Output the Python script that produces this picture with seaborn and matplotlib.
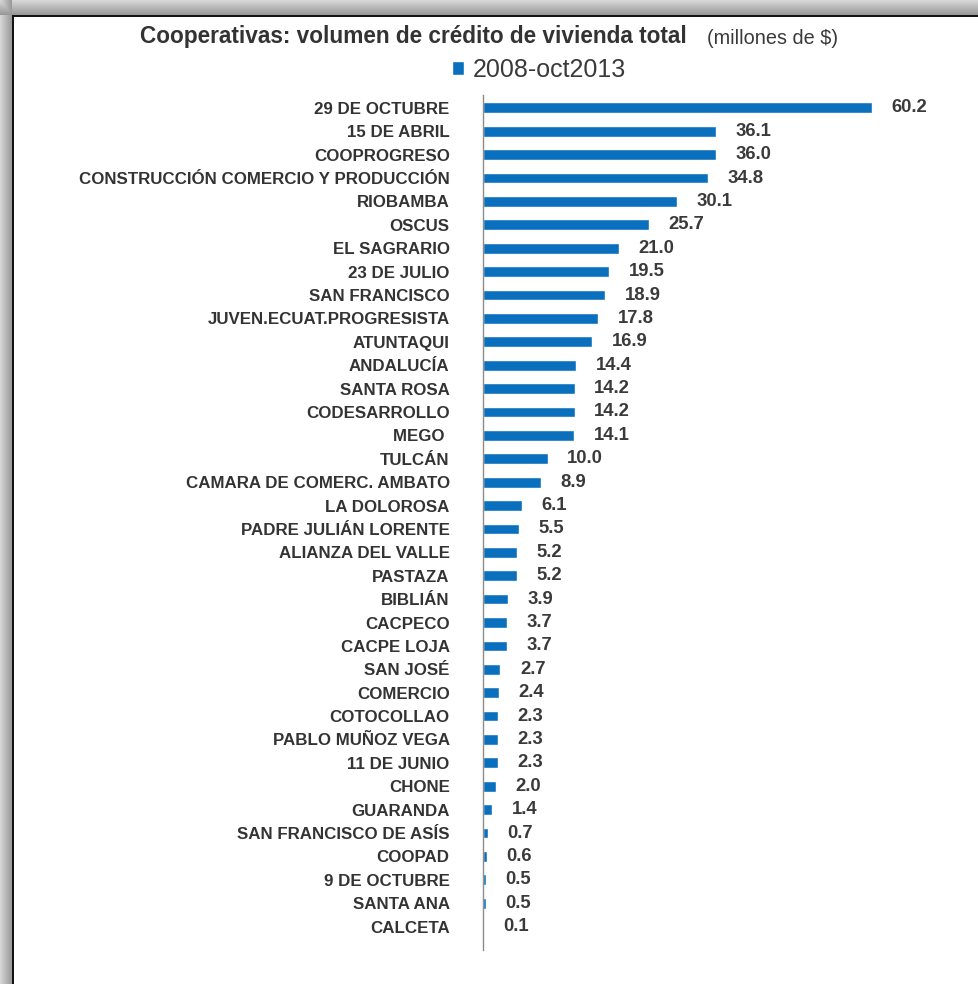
import numpy as np
import pandas as pd
import matplotlib
matplotlib.use("Agg")
import matplotlib.pyplot as plt
import seaborn as sns

categories = [
    "29 DE OCTUBRE", "15 DE ABRIL", "COOPROGRESO", "CONSTRUCCIÓN COMERCIO Y PRODUCCIÓN",
    "RIOBAMBA", "OSCUS", "EL SAGRARIO", "23 DE JULIO", "SAN FRANCISCO",
    "JUVEN.ECUAT.PROGRESISTA", "ATUNTAQUI", "ANDALUCÍA", "SANTA ROSA", "CODESARROLLO",
    "MEGO ", "TULCÁN", "CAMARA DE COMERC. AMBATO", "LA DOLOROSA", "PADRE JULIÁN LORENTE",
    "ALIANZA DEL VALLE", "PASTAZA", "BIBLIÁN", "CACPECO", "CACPE LOJA", "SAN JOSÉ",
    "COMERCIO", "COTOCOLLAO", "PABLO MUÑOZ VEGA", "11 DE JUNIO", "CHONE", "GUARANDA",
    "SAN FRANCISCO DE ASÍS", "COOPAD", "9 DE OCTUBRE", "SANTA ANA", "CALCETA",
]
values = [
    60.2, 36.1, 36.0, 34.8, 30.1, 25.7, 21.0, 19.5, 18.9, 17.8, 16.9, 14.4, 14.2, 14.2,
    14.1, 10.0, 8.9, 6.1, 5.5, 5.2, 5.2, 3.9, 3.7, 3.7, 2.7, 2.4, 2.3, 2.3, 2.3, 2.0,
    1.4, 0.7, 0.6, 0.5, 0.5, 0.1,
]
series_name = "2008-oct2013"
title_main = "Cooperativas: volumen de crédito de vivienda total"
title_unit = "(millones de $)"

df = pd.DataFrame({"coop": categories, "valor": values, "serie": series_name})

sns.set_theme(style="white")
plt.rcParams["font.family"] = ["Liberation Sans", "DejaVu Sans"]

W, H = 979, 984
fig = plt.figure(figsize=(W / 100, H / 100), dpi=100)

# decorative frame (gray gradient top/left with dark inner line)
bg = fig.add_axes([0, 0, 1, 1], zorder=-10)
img = np.ones((H, W))
top = 15
left = 12
for r in range(top):
    img[r, :] = np.minimum(img[r, :], 0.84 - 0.26 * r / top)
for c in range(left):
    img[:, c] = np.minimum(img[:, c], 0.84 - 0.26 * c / left)
img[top:top + 2, left:] = 0.08
img[top:, left:left + 2] = 0.08
bg.imshow(img, cmap="gray", vmin=0, vmax=1, aspect="auto", interpolation="nearest")
bg.set_axis_off()

# main axes
ax_left = 483 / W
ax_right = 955 / W
ax_top = 95 / H
ax_bot = 950 / H
ax = fig.add_axes([ax_left, 1 - ax_bot, ax_right - ax_left, ax_bot - ax_top])

sns.barplot(data=df, y="coop", x="valor", hue="serie", palette=["#0A70BE"],
            orient="h", width=0.46, ax=ax, legend=True, saturation=1)

xmax = (955 - 483) / ((872 - 483) / 60.2)
ax.set_xlim(0, xmax)
n = len(categories)
ax.set_ylim(n - 1 + 1.0, -0.55)

for s in ["top", "right", "bottom"]:
    ax.spines[s].set_visible(False)
ax.spines["left"].set_color("#8c8c8c")
ax.spines["left"].set_linewidth(1.0)
ax.set_xticks([])
ax.set_xlabel("")
ax.set_ylabel("")
ax.tick_params(axis="y", length=0, pad=24)
for lab in ax.get_yticklabels():
    lab.set_fontweight("bold")
    lab.set_fontsize(12.2)
    lab.set_color("#333333")

for cont in ax.containers:
    ax.bar_label(cont, fmt="%.1f", padding=14, fontsize=13.3, fontweight="bold",
                 color="#3a3a3a")

# legend
sns.move_legend(ax, "center", bbox_to_anchor=(539 / W, 1 - 70 / H),
                bbox_transform=fig.transFigure, frameon=False, title=None,
                handlelength=0.5, handleheight=0.5, handletextpad=0.35,
                prop={"size": 18})
leg = ax.get_legend()
for t in leg.get_texts():
    t.set_color("#3a3a3a")

# title
fig.text(140 / W, 1 - 37 / H, title_main, ha="left", va="center",
         fontsize=16.3, fontweight="bold", color="#333333")
fig.text(707 / W, 1 - 38 / H, title_unit, ha="left", va="center",
         fontsize=14.3, color="#3a3a3a")

fig.savefig("out.png", dpi=100)
